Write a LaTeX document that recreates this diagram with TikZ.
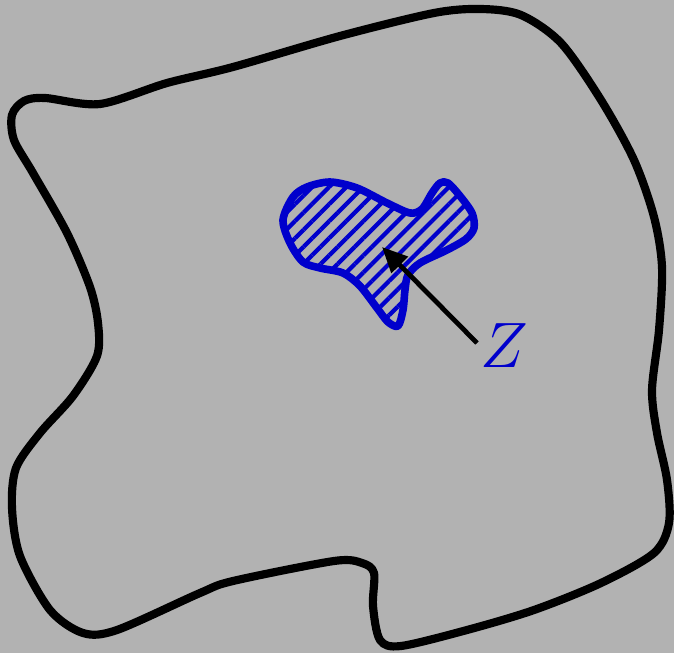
\documentclass[tikz,border=0pt]{standalone}
\usepackage{tikz}
\usetikzlibrary{arrows.meta,patterns.meta}

\definecolor{setblue}{RGB}{0,0,204}

\begin{document}
\begin{tikzpicture}[x=0.0125cm,y=-0.0125cm,line join=round,
   outline/.style={draw=black,line width=2.9pt},
   region/.style={draw=setblue,line width=2.7pt,pattern={Lines[angle=45,distance=4.3pt,line width=1.5pt]},pattern color=setblue},
   pointer/.style={draw=black,line width=1.7pt,-{Triangle[length=9pt,width=8pt]}},
   lbl/.style={text=setblue,inner sep=0pt,font=\huge,scale=1.1}]
\fill[black!30] (0,0) rectangle (674,653);
\useasboundingbox (0,0) rectangle (674,653);
% the big set
\draw[outline] plot[smooth cycle,tension=0.5] coordinates {
   (12,115) (24,101) (45,98) (100,104) (167,83) (233,67) (340,36) (434,13) (481,9)
   (521,15) (561,43) (601,100) (634,160) (654,217) (662,267) (659,330)
   (652,390) (657,433) (667,480) (669,523) (654,553) (601,583) (534,610)
   (467,630) (401,646) (380,640) (373,606) (374,573) (362,563) (334,561)
   (233,581) (200,593) (117,630) (83,633) (50,610) (20,556) (12,508)
   (16,468) (40,433) (73,396) (97,356) (98,323) (90,287) (67,233) (33,173)
   (14,140)};
% the small set Z
\draw[region] plot[smooth cycle,tension=0.5] coordinates {
   (283,220) (293,197) (307,187) (330,182) (357,188) (387,203) (410,213)
   (422,209) (432,193) (440,183) (448,183) (460,196) (472,213) (474,228)
   (466,239) (447,250) (420,263) (408,275) (405,290) (403,310) (398,326)
   (388,322) (377,308) (360,286) (343,273) (320,268) (303,262) (290,243)};
\coordinate (ztip) at (382,247);
\node[lbl,anchor=west] (zlabel) at (480,346) {$Z$};
\draw[pointer] (zlabel.west) ++(-3,-3) -- (ztip);
\end{tikzpicture}
\end{document}
